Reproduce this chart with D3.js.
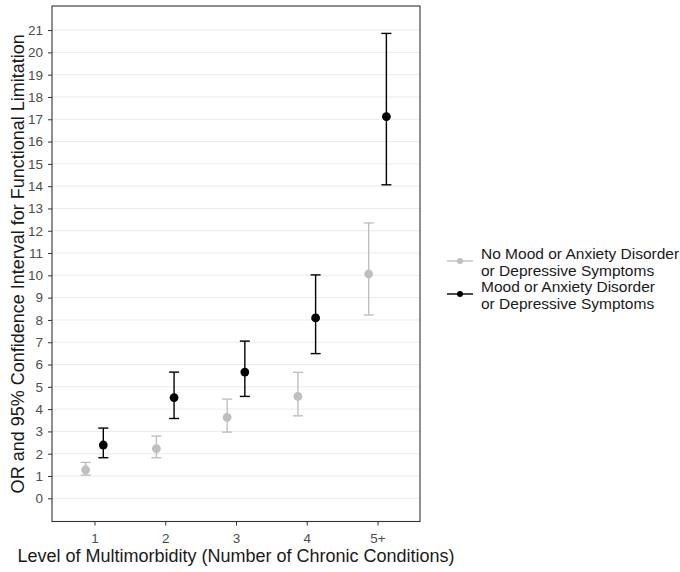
<!DOCTYPE html>
<html>
<head>
<meta charset="utf-8">
<script src="https://cdn.jsdelivr.net/npm/d3@7"></script>
<style>
  html, body { margin: 0; padding: 0; background: #fff; }
  svg { display: block; font-family: "Liberation Sans", Arial, sans-serif; }
</style>
</head>
<body>
<svg id="chart" width="680" height="572"></svg>
<script>
// ---- data ----
const categories = ["1", "2", "3", "4", "5+"];
const seriesNames = [
  ["No Mood or Anxiety Disorder", "or Depressive Symptoms"],
  ["Mood or Anxiety Disorder", "or Depressive Symptoms"]
];
const noMoodOR    = [1.28, 2.23, 3.63, 4.57, 10.06];
const noMoodLow   = [1.04, 1.82, 2.97, 3.70, 8.22];
const noMoodHigh  = [1.61, 2.79, 4.45, 5.65, 12.35];
const moodOR      = [2.39, 4.52, 5.66, 8.09, 17.12];
const moodLow     = [1.82, 3.58, 4.57, 6.49, 14.06];
const moodHigh    = [3.15, 5.66, 7.05, 10.02, 20.85];
const yTicks = d3.range(0, 22);
const yDomain = [-1.04, 22.08];

// ---- layout ----
const svg = d3.select("#chart");
const panel = { left: 52, right: 420, top: 6, bottom: 521.5 };
const colors = ["#bfbfbf", "#000000"];

const x = d3.scalePoint().domain(categories).range([panel.left, panel.right]).padding(0.6);
const y = d3.scaleLinear().domain(yDomain).range([panel.bottom, panel.top]);
const dodge = x.step() * 0.125;

// gridlines
svg.append("g").selectAll("line").data(yTicks).join("line")
  .attr("x1", panel.left).attr("x2", panel.right)
  .attr("y1", d => y(d)).attr("y2", d => y(d))
  .attr("stroke", "#ebebeb").attr("stroke-width", 1);

// axes
const yAxis = svg.append("g")
  .attr("transform", `translate(${panel.left},0)`)
  .call(d3.axisLeft(y).tickValues(yTicks).tickSize(4).tickPadding(5).tickFormat(d3.format("d")));
const xAxis = svg.append("g")
  .attr("transform", `translate(0,${panel.bottom})`)
  .call(d3.axisBottom(x).tickSize(4).tickPadding(8));
[yAxis, xAxis].forEach(a => {
  a.select(".domain").remove();
  a.selectAll(".tick line").attr("stroke", "#333333");
  a.selectAll(".tick text").attr("fill", "#4d4d4d").attr("font-size", 13.5)
    .attr("font-family", "Liberation Sans, Arial, sans-serif");
});

// panel border
svg.append("rect")
  .attr("x", panel.left).attr("y", panel.top)
  .attr("width", panel.right - panel.left).attr("height", panel.bottom - panel.top)
  .attr("fill", "none").attr("stroke", "#333333").attr("stroke-width", 1.1);

// series
const series = [
  { or: noMoodOR, lo: noMoodLow, hi: noMoodHigh, off: -dodge, color: colors[0] },
  { or: moodOR, lo: moodLow, hi: moodHigh, off: dodge, color: colors[1] }
];
const capW = 5;
series.forEach(s => {
  const g = svg.append("g");
  const rows = categories.map((c, i) => ({ c, or: s.or[i], lo: s.lo[i], hi: s.hi[i] }));
  const cx = d => x(d.c) + s.off;
  g.selectAll("line.v").data(rows).join("line").attr("class", "v")
    .attr("x1", cx).attr("x2", cx).attr("y1", d => y(d.lo)).attr("y2", d => y(d.hi))
    .attr("stroke", s.color).attr("stroke-width", 1.4);
  g.selectAll("line.t").data(rows).join("line").attr("class", "t")
    .attr("x1", d => cx(d) - capW).attr("x2", d => cx(d) + capW)
    .attr("y1", d => y(d.hi)).attr("y2", d => y(d.hi))
    .attr("stroke", s.color).attr("stroke-width", 1.4);
  g.selectAll("line.b").data(rows).join("line").attr("class", "b")
    .attr("x1", d => cx(d) - capW).attr("x2", d => cx(d) + capW)
    .attr("y1", d => y(d.lo)).attr("y2", d => y(d.lo))
    .attr("stroke", s.color).attr("stroke-width", 1.4);
  g.selectAll("circle").data(rows).join("circle")
    .attr("cx", cx).attr("cy", d => y(d.or)).attr("r", 4.4)
    .attr("fill", s.color);
});

// axis titles
svg.append("text")
  .attr("x", (panel.left + panel.right) / 2).attr("y", 562)
  .attr("text-anchor", "middle").attr("font-size", 18).attr("fill", "#1a1a1a")
  .text("Level of Multimorbidity (Number of Chronic Conditions)");
svg.append("text")
  .attr("transform", `translate(24,${(panel.top + panel.bottom) / 2}) rotate(-90)`)
  .attr("text-anchor", "middle").attr("font-size", 18).attr("fill", "#1a1a1a")
  .text("OR and 95% Confidence Interval for Functional Limitation");

// legend
const legend = svg.append("g").attr("transform", "translate(447,0)");
const itemY = [261, 294];
seriesNames.forEach((lines, i) => {
  const cy = itemY[i];
  legend.append("line").attr("x1", 0).attr("x2", 26).attr("y1", cy).attr("y2", cy)
    .attr("stroke", colors[i]).attr("stroke-width", 1.4);
  legend.append("circle").attr("cx", 13).attr("cy", cy).attr("r", 3).attr("fill", colors[i]);
  lines.forEach((t, j) => {
    legend.append("text").attr("x", 34).attr("y", cy - 7 + j * 17 + 5)
      .attr("font-size", 15.5).attr("fill", "#1a1a1a").text(t);
  });
});
</script>
</body>
</html>
